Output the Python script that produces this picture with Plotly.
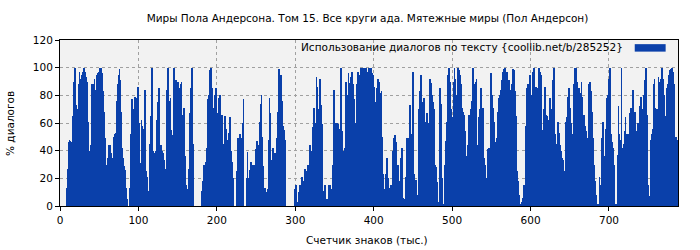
import plotly.graph_objects as go

title_text = "Миры Пола Андерсона. Том 15. Все круги ада. Мятежные миры (Пол Андерсон)"
legend_text = "Использование диалогов по тексту {coollib.net/b/285252}"
x_title = "Счетчик знаков (тыс.)"
y_title = "% диалогов"

x_start = 9  # first counter value (thousand chars)

seg01 = [13,27,46,48,47, 46,7,64,65,90, 100,66,73,54,70, 88,97,83,92,95, 97,100,100,97,93,
         90,64,61,40,30, 24,44,88,84,88, 92,84,84,95,96, 97,90,100,100,98, 96,83,68,49,38,
         30,15,35,44,41, 44,38]
seg02 = [18,35,25,50,52, 53,30,76,88,95, 99,91,68,42,35, 30,29,26,13,5, 0,0,0,13,40,
         52,77,56,70,75, 79,78,74,86,70, 60,17,31,62,58, 56,43,84,33,25, 21,11,3,18,45,
         65,100,53,40,38, 36,40,42,62,75, 85,66,44,44,40, 38,36]
seg03 = [33,0,27,84,92, 100,50,76,78,55, 30,51,100,68,80, 91,88,90,44,66, 85,88,90,62,66,
         71,36,30,15,12, 9,27,60,67,85, 100,95,45,0,0, 0,0,0,0,0, 0,0,0,11,18,
         23,30,15,32,42, 53,77,80,98,99, 100,85,71,71,78, 80]
seg04 = [85,67,52,76,78, 80,51,64,66,45, 33,65,49,56,48, 42,53,23,64,40, 32,20,20,0,0,
         0,0,25,49,44, 40,52,49,47,60, 77,0,0,0,20, 39,20,17,26,29, 32,30,25,30,20,
         10,41,47,44,42, 40,61,74,80,50, 29,6,13,13,10, 9,12]
seg05 = [48,78,67,33,10, 0,42,26,38,30, 23,49,68,99,95, 90,95,76,56,58, 55,48,0,0,0,
         0,0,0,0,0, 0,0,0,8,12, 15,3,2,8,10, 15,7,8,21,18, 15,27,8,20,25,
         30,11,25,44,40, 37,49,57,71,60, 52,93,86,61,70, 75]
seg06 = [92,73,59,11,10, 8,15,2,5,3, 1,15,15,15,12, 9,30,84,77,60, 48,60,59,43,50,
         56,100,56,54,40, 29,42,60,90,80, 73,96,40,89,93, 97,96,88,77,60, 42,73,88,97,93,
         89,95,100,100,98, 95,100,94,100,90, 84,97,100,97,99, 100,96]
seg07 = [95,86,68,64,75, 85,92,80,90,82, 73,83,50,23,12, 6,23,13,35,20, 1,13,3,15,10,
         15,40,49,51,46, 42,30,30,2,10, 18,35,42,6,4, 5,1,21,49,45, 49,35,73,60,52,
         43,97,23,15,17, 19,7,8,49,70, 83,95,79,71,75, 78]
seg08 = [26,13,61,67,60, 55,56,92,89,80, 76,75,70,30,28, 25,17,1,3,40, 85,74,20,1,0,
         1,30,47,61,80, 95,100,90,83,70, 64,54,90,100,92, 80,78,100,100,98, 95,88,83,71,68,
         66,54,49,29,36, 44,66,54,66,70, 76,92,100,85,88, 90,92]
seg09 = [44,8,64,42,70, 85,60,71,40,35, 30,20,8,40,41, 42,37,83,96,80, 71,61,49,44,46,
         49,68,59,78,80, 84,91,89,97,99, 100,99,95,97,90, 85,91,78,84,88, 90,99,98,83,65,
         49,25,18,8,4, 1,1,3,6,10, 15,6,58,85,86, 88]
seg10 = [68,95,54,65,80, 97,100,67,84,86, 85,44,90,100,97, 95,95,54,55,70, 86,79,66,65,62,
         59,61,78,47,70, 91,85,100,52,45, 37,31,61,53,48, 44,40,35,33,10, 1,25,61,64,70,
         79,85,71,70,60, 48,52,88,100,100, 100,90,84,82,85, 82,80]
seg11 = [90,79,64,66,58, 52,54,30,49,70, 88,90,83,68,58, 49,30,18,8,4, 1,0,1,21,15,
         11,49,61,37,36, 35,56,78,61,80, 92,100,73,52,46, 42,30,18,1,0, 1,37,72,52,48,
         44,100,42,37,45, 54,64,49,52,35, 20,52,67,71,60, 50]
seg12 = [84,27,68,54,50, 49,60,42,66,72, 79,42,70,42,80, 91,100,66,30,15, 7,3,6,48,52,
         56,88,92,71,70, 70,66,93,86,90, 92,92,100,92,80, 65,58,57,85,88, 90,95,98,99,100,
         100,97,88,50,50, 50,48]

values = seg01 + seg02 + seg03 + seg04 + seg05 + seg06 + seg07 + seg08 + seg09 + seg10 + seg11 + seg12
counter = list(range(x_start, x_start + len(values)))

x_ticks = [0, 100, 200, 300, 400, 500, 600, 700]
y_ticks = [0, 20, 40, 60, 80, 100, 120]

bar_color = "#0a40aa"
font_family = "DejaVu Sans"
fs = 10.5

fig = go.Figure()
fig.add_trace(go.Bar(x=counter, y=values, marker=dict(color=bar_color, line=dict(width=0)),
                     width=1.0, showlegend=False))

axis_common = dict(showline=True, linecolor="black", linewidth=1, mirror=True,
                   ticks="outside", ticklen=4, tickcolor="black", automargin=False,
                   showgrid=True, gridcolor="#a0a0a0", griddash="3px,3px", gridwidth=1,
                   zeroline=False, tickfont=dict(family=font_family, size=fs, color="black"))

fig.update_layout(
    width=700, height=250,
    margin=dict(l=60, r=22, t=40, b=44, autoexpand=False),
    paper_bgcolor="white", plot_bgcolor="#f2f2f2",
    bargap=0,
    font=dict(family=font_family, size=fs, color="black"),
    title=dict(text=title_text, x=0.525, xanchor="center", y=0.928, yanchor="middle",
               font=dict(family=font_family, size=fs, color="black")),
    xaxis=dict(range=[0, 788], tickvals=x_ticks, **axis_common),
    yaxis=dict(range=[0, 120], tickvals=y_ticks, **axis_common),
)

fig.add_annotation(text=x_title, xref="paper", yref="paper", x=0.497, y=-0.205,
                   xanchor="center", yanchor="middle", showarrow=False,
                   font=dict(family=font_family, size=fs, color="black"))
fig.add_annotation(text=y_title, xref="paper", yref="paper", x=-0.081, y=0.5,
                   xanchor="center", yanchor="middle", showarrow=False, textangle=-90,
                   font=dict(family=font_family, size=fs, color="black"))
fig.add_annotation(text=legend_text, xref="paper", yref="paper", x=0.915, y=0.955,
                   xanchor="right", yanchor="middle", showarrow=False,
                   font=dict(family=font_family, size=fs, color="black"))
fig.add_shape(type="rect", xref="paper", yref="paper", x0=0.93, x1=0.98, y0=0.93, y1=0.975,
              fillcolor=bar_color, line=dict(width=0))

fig.write_html("out.html")
